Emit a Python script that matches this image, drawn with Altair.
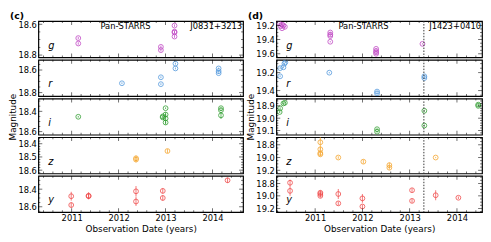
import altair as alt
import pandas as pd

FONT = "DejaVu Sans"
YEARS = [2011, 2012, 2013, 2014]

# ---------------- (c) J0831+3213 ----------------
C_XDOM = [2010.29, 2014.65]
C_G_DATE = [2011.14, 2011.14, 2012.90, 2012.90, 2013.19, 2013.19, 2013.19, 2013.19]
C_G_MAG = [18.690, 18.725, 18.747, 18.768, 18.609, 18.648, 18.654, 18.680]
C_G_ERR = [0.008, 0.008, 0.008, 0.008, 0.008, 0.008, 0.008, 0.008]

C_R_DATE = [2012.07, 2012.90, 2012.90, 2013.21, 2013.21, 2014.13, 2014.13, 2014.13]
C_R_MAG = [18.717, 18.664, 18.725, 18.544, 18.586, 18.586, 18.628, 18.610]
C_R_ERR = [0.008, 0.008, 0.008, 0.008, 0.008, 0.008, 0.008, 0.008]

C_I_DATE = [2011.14, 2012.94, 2012.94, 2013.00, 2013.00, 2013.00, 2013.00, 2014.18, 2014.18, 2014.18]
C_I_MAG = [18.454, 18.450, 18.460, 18.370, 18.432, 18.470, 18.510, 18.370, 18.390, 18.440]
C_I_ERR = [0.008, 0.008, 0.008, 0.008, 0.008, 0.060, 0.010, 0.008, 0.008, 0.035]

C_Z_DATE = [2012.37, 2012.37, 2013.04]
C_Z_MAG = [18.510, 18.520, 18.455]
C_Z_ERR = [0.020, 0.020, 0.015]

C_Y_DATE = [2010.99, 2010.99, 2011.36, 2011.36, 2012.37, 2012.37, 2012.94, 2012.94, 2014.32]
C_Y_MAG = [18.480, 18.580, 18.475, 18.480, 18.425, 18.540, 18.420, 18.500, 18.300]
C_Y_ERR = [0.050, 0.030, 0.040, 0.030, 0.060, 0.050, 0.030, 0.030, 0.030]

# ---------------- (d) J1423+0410 ----------------
D_XDOM = [2010.18, 2014.53]
D_VLINE = [2013.30]
D_G_DATE = [2010.24, 2010.27, 2010.30, 2010.33, 2010.36, 2010.30, 2011.32, 2011.32, 2011.32, 2011.32,
            2012.29, 2012.29, 2012.29, 2012.29, 2013.27]
D_G_MAG = [19.17, 19.21, 19.19, 19.20, 19.22, 19.24, 19.30, 19.33, 19.35, 19.43,
           19.53, 19.56, 19.58, 19.60, 19.46]
D_G_ERR = [0.01, 0.01, 0.01, 0.01, 0.01, 0.01, 0.01, 0.01, 0.01, 0.01,
           0.01, 0.01, 0.01, 0.01, 0.01]

D_R_DATE = [2010.26, 2010.26, 2010.33, 2010.35, 2010.37, 2011.30, 2012.31, 2012.31, 2013.31, 2013.31]
D_R_MAG = [19.24, 19.15, 19.14, 19.10, 19.085, 19.20, 19.41, 19.43, 19.24, 19.26]
D_R_ERR = [0.01, 0.01, 0.01, 0.01, 0.01, 0.008, 0.01, 0.01, 0.01, 0.01]

D_I_DATE = [2010.25, 2010.26, 2010.33, 2010.36, 2012.31, 2012.31, 2013.31, 2013.31, 2014.45, 2014.45]
D_I_MAG = [18.950, 18.920, 18.880, 18.875, 19.090, 19.110, 18.940, 19.060, 18.890, 18.900]
D_I_ERR = [0.008, 0.008, 0.008, 0.008, 0.008, 0.008, 0.008, 0.008, 0.010, 0.010]

D_Z_DATE = [2011.11, 2011.11, 2011.11, 2011.11, 2011.49, 2012.02, 2012.57, 2012.57, 2013.55]
D_Z_MAG = [18.76, 18.87, 18.93, 18.95, 19.00, 19.065, 19.12, 19.16, 19.00]
D_Z_ERR = [0.12, 0.03, 0.03, 0.03, 0.02, 0.030, 0.04, 0.03, 0.01]

D_Y_DATE = [2010.47, 2010.47, 2011.11, 2011.11, 2011.11, 2011.49, 2011.49, 2012.00, 2012.00,
            2013.05, 2013.05, 2013.55, 2014.03]
D_Y_MAG = [18.79, 18.92, 18.95, 18.97, 19.00, 18.97, 19.12, 19.04, 19.17,
           18.91, 19.08, 18.99, 19.03]
D_Y_ERR = [0.05, 0.08, 0.04, 0.03, 0.03, 0.08, 0.03, 0.07, 0.03,
           0.03, 0.03, 0.08, 0.02]

COLORS = {"g": "#bf45c4", "r": "#4f97dc", "i": "#2f9e2f", "z": "#f5a42a", "y": "#f04848"}

H = 37
W_C = 209
W_D = 210


def minor_vals(lo, hi, step, majors):
    out = []
    k = 0
    start = round(int(lo / step) * step, 4)
    v = start
    while v <= hi + 1e-9:
        if lo < v < hi and all(abs(v - m) > 1e-6 for m in majors):
            out.append(round(v, 4))
        k += 1
        v = round(start + k * step, 4)
    return out


def panel(dates, mags, errs, band, xdom, ydom, yticks, ystep, W,
          bottom=False, ytitle=False, label=None, name=None, vline=None):
    color = COLORS[band]
    xs = alt.Scale(domain=xdom, nice=False, zero=False)
    ys = alt.Scale(domain=ydom, reverse=True, nice=False, zero=False)
    df = pd.DataFrame({
        "date": dates, "mag": mags,
        "lo": [m - e for m, e in zip(mags, errs)],
        "hi": [m + e for m, e in zip(mags, errs)],
    })
    if bottom:
        xaxis = alt.Axis(values=YEARS, format="d", ticks=False, domain=False, grid=False,
                         labelPadding=2, title="Observation Date (years)", titlePadding=2)
    else:
        xaxis = None
    yaxis = alt.Axis(values=yticks, format=".1f", ticks=False, domain=False, grid=False,
                     labelPadding=2, title=("Magnitude" if ytitle else None), titlePadding=0)
    ylo, yhi = min(ydom), max(ydom)
    layers = []
    layers.append(alt.Chart(df).mark_point(shape="circle", filled=False, size=24, strokeWidth=1,
                                           color=color, opacity=0.8, clip=True).encode(
        x=alt.X("date:Q", scale=xs, axis=xaxis),
        y=alt.Y("mag:Q", scale=ys, axis=yaxis)))
    layers.append(alt.Chart(df).mark_rule(color=color, strokeWidth=1, opacity=0.75, clip=True).encode(
        x=alt.X("date:Q", scale=xs, axis=xaxis),
        y=alt.Y("lo:Q", scale=ys, axis=yaxis), y2="hi:Q"))
    if vline is not None:
        layers.append(alt.Chart(pd.DataFrame({"v": vline})).mark_rule(
            color="#333333", strokeWidth=1, strokeDash=[1.5, 1.5]).encode(
            x=alt.X("v:Q", scale=xs, axis=xaxis)))
    # inward ticks
    xmaj = [v for v in YEARS if xdom[0] < v < xdom[1]]
    xmin = minor_vals(xdom[0], xdom[1], 0.2, YEARS)
    ymaj = [v for v in yticks if ylo < v < yhi]
    ymin = minor_vals(ylo, yhi, ystep, yticks)
    tk = dict(color="black", thickness=0.8)
    for vals, size in ((xmaj, 4), (xmin, 2)):
        d = pd.DataFrame({"t": vals})
        for yy in (size / 2, H - size / 2):
            layers.append(alt.Chart(d).mark_tick(orient="vertical", size=size, **tk).encode(
                x=alt.X("t:Q", scale=xs, axis=xaxis), y=alt.value(yy)))
    for vals, size in ((ymaj, 4), (ymin, 2)):
        d = pd.DataFrame({"t": vals})
        for xx in (size / 2, W - size / 2):
            layers.append(alt.Chart(d).mark_tick(orient="horizontal", size=size, **tk).encode(
                y=alt.Y("t:Q", scale=ys, axis=yaxis), x=alt.value(xx)))
    # band letter
    layers.append(alt.Chart(pd.DataFrame({"s": [band]})).mark_text(
        font=FONT, fontSize=10, fontStyle="italic", align="left", baseline="alphabetic",
        color="black").encode(text="s:N", x=alt.value(10), y=alt.value(H - 9)))
    if name is not None:
        layers.append(alt.Chart(pd.DataFrame({"s": ["Pan-STARRS"]})).mark_text(
            font=FONT, fontSize=8.5, align="center", baseline="top", color="black").encode(
            text="s:N", x=alt.value(89), y=alt.value(1.5)))
        layers.append(alt.Chart(pd.DataFrame({"s": [name]})).mark_text(
            font=FONT, fontSize=8.5, align="right", baseline="top", color="black").encode(
            text="s:N", x=alt.value(W - 1), y=alt.value(1.5)))
    if label is not None:
        layers.append(alt.Chart(pd.DataFrame({"s": [label]})).mark_text(
            font=FONT, fontSize=9.5, fontWeight="bold", align="left", baseline="top",
            color="black").encode(text="s:N", x=alt.value(-29), y=alt.value(-10)))
    return alt.layer(*layers).properties(width=W, height=H)


col_c = alt.vconcat(
    panel(C_G_DATE, C_G_MAG, C_G_ERR, "g", C_XDOM, [18.58, 18.815], [18.6, 18.8], 0.05, W_C,
          label="(c)", name="J0831+3213"),
    panel(C_R_DATE, C_R_MAG, C_R_ERR, "r", C_XDOM, [18.51, 18.83], [18.6, 18.8], 0.05, W_C),
    panel(C_I_DATE, C_I_MAG, C_I_ERR, "i", C_XDOM, [18.275, 18.63], [18.4, 18.6], 0.05, W_C, ytitle=True),
    panel(C_Z_DATE, C_Z_MAG, C_Z_ERR, "z", C_XDOM, [18.35, 18.625], [18.4, 18.5, 18.6], 0.02, W_C),
    panel(C_Y_DATE, C_Y_MAG, C_Y_ERR, "y", C_XDOM, [18.25, 18.66], [18.4, 18.6], 0.05, W_C, bottom=True),
    spacing=2.5, bounds="flush",
)

col_d = alt.vconcat(
    panel(D_G_DATE, D_G_MAG, D_G_ERR, "g", D_XDOM, [19.14, 19.65], [19.2, 19.4, 19.6], 0.05, W_D,
          label="(d)", name="J1423+0410", vline=D_VLINE),
    panel(D_R_DATE, D_R_MAG, D_R_ERR, "r", D_XDOM, [19.057, 19.46], [19.2, 19.4], 0.05, W_D, vline=D_VLINE),
    panel(D_I_DATE, D_I_MAG, D_I_ERR, "i", D_XDOM, [18.84, 19.135], [18.9, 19.0, 19.1], 0.02, W_D,
          ytitle=True, vline=D_VLINE),
    panel(D_Z_DATE, D_Z_MAG, D_Z_ERR, "z", D_XDOM, [18.68, 19.25], [18.8, 19.0, 19.2], 0.05, W_D, vline=D_VLINE),
    panel(D_Y_DATE, D_Y_MAG, D_Y_ERR, "y", D_XDOM, [18.68, 19.26], [18.8, 19.0, 19.2], 0.05, W_D,
          bottom=True, vline=D_VLINE),
    spacing=2.5, bounds="flush",
)

chart = alt.hconcat(col_c, col_d, spacing=2).properties(
    padding=0, background="white"
).configure_view(
    stroke="black", strokeWidth=1.2
).configure_axis(
    labelFont=FONT, titleFont=FONT, labelFontSize=8.5, titleFontSize=9,
    labelColor="black", titleColor="black", titleFontWeight="normal"
)

chart.save("out.html", embed_options={"renderer": "svg", "actions": False})
